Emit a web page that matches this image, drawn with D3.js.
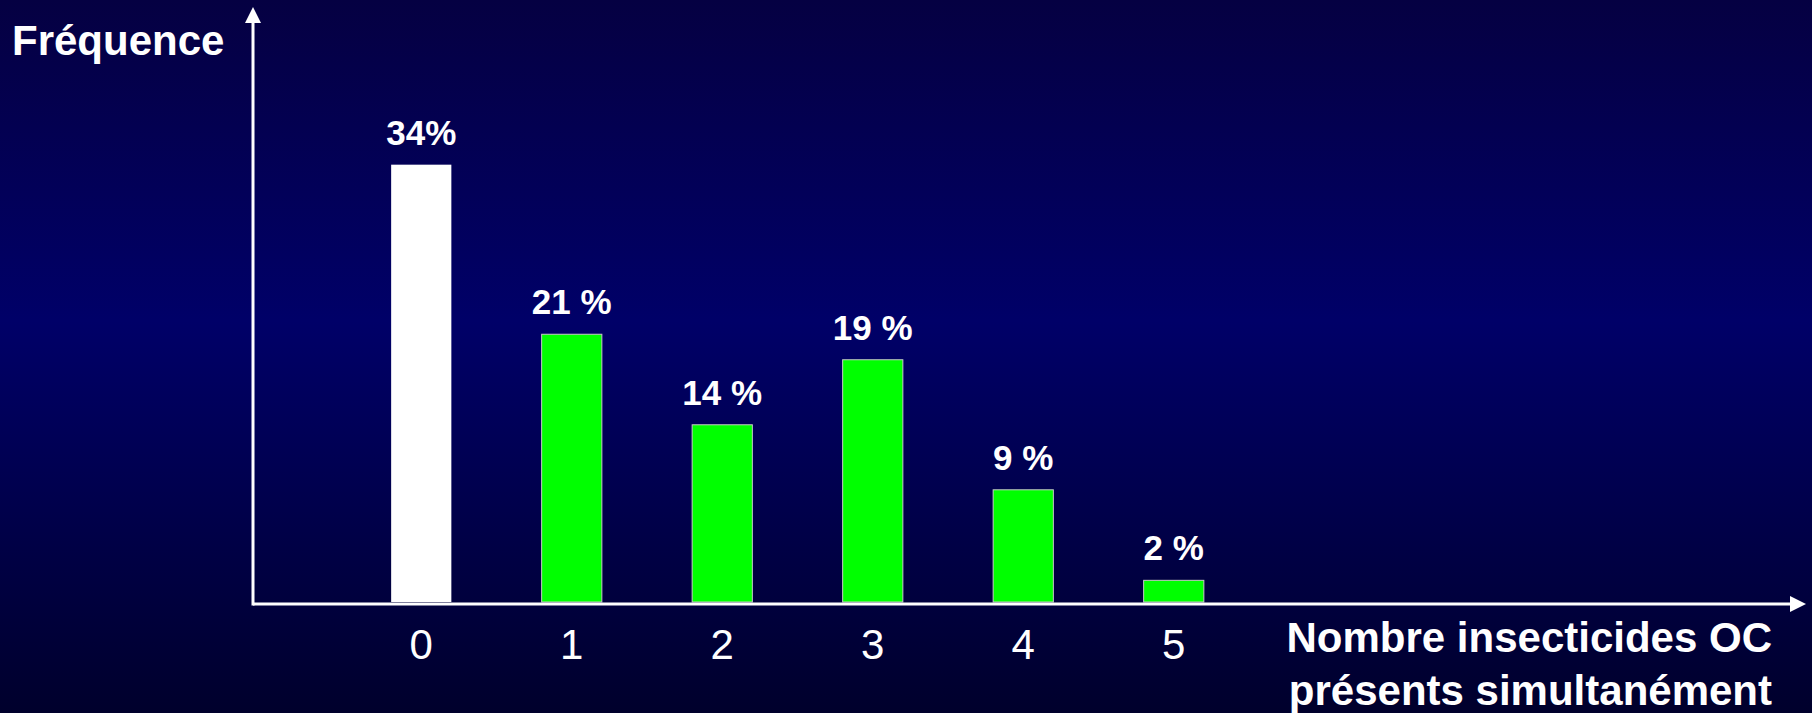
<!DOCTYPE html>
<html lang="fr">
<head>
    <meta charset="UTF-8">
    <title>Fréquence - nombre insecticides OC</title>
    <script src="https://d3js.org/d3.v7.min.js"></script>
    <style>
        body {
            margin: 0;
            overflow: hidden;
            font-family: "Liberation Sans", Arial, sans-serif;
        }
        .bar-label {
            fill: #fff;
            font-weight: bold;
            font-size: 35px;
            text-anchor: middle;
        }
        .title {
            fill: #fff;
            font-weight: bold;
            font-size: 42px;
        }
        .tick text {
            fill: #fff;
            font-size: 42px;
            font-family: "Liberation Sans", Arial, sans-serif;
        }
    </style>
</head>
<body>
    <svg id="chart" width="1812" height="713"></svg>
    <script>
        // data
        const categories = ["0", "1", "2", "3", "4", "5"];
        const values = [34.3, 21, 13.9, 19, 8.8, 1.7];
        const labels = ["34%", "21 %", "14 %", "19 %", "9 %", "2 %"];
        const barColors = ["#ffffff", "#00ff00", "#00ff00", "#00ff00", "#00ff00", "#00ff00"];

        const width = 1812;
        const height = 713;
        const axisX = 253;   // vertical axis position
        const axisY = 604;   // horizontal axis position
        const baseY = 602;   // bottom of the bars

        const svg = d3.select("#chart");

        // background gradient
        const defs = svg.append("defs");
        const grad = defs.append("linearGradient")
            .attr("id", "bg")
            .attr("x1", 0).attr("y1", 0)
            .attr("x2", 0).attr("y2", 1);
        grad.append("stop").attr("offset", "0%").attr("stop-color", "#050042");
        grad.append("stop").attr("offset", "45%").attr("stop-color", "#000068");
        grad.append("stop").attr("offset", "100%").attr("stop-color", "#00002c");

        svg.append("rect")
            .attr("width", width)
            .attr("height", height)
            .attr("fill", "url(#bg)");

        const x = d3.scaleBand()
            .domain(categories)
            .range([346, 1249])
            .paddingInner(0.6)
            .paddingOuter(0.3);

        const y = d3.scaleLinear()
            .domain([0, 40])
            .range([baseY, baseY - 510]);

        // bars
        svg.selectAll(".bar")
            .data(values)
            .enter()
            .append("rect")
            .attr("class", "bar")
            .attr("x", (d, i) => x(categories[i]))
            .attr("y", d => y(d))
            .attr("width", x.bandwidth())
            .attr("height", d => y(0) - y(d))
            .attr("fill", (d, i) => barColors[i])
            .attr("stroke", (d, i) => i === 0 ? "none" : "#c8c8c8")
            .attr("stroke-width", 1);

        // value labels
        svg.selectAll(".bar-label")
            .data(values)
            .enter()
            .append("text")
            .attr("class", "bar-label")
            .attr("x", (d, i) => x(categories[i]) + x.bandwidth() / 2)
            .attr("y", d => y(d) - 20)
            .text((d, i) => labels[i]);

        // category ticks
        const xAxis = svg.append("g")
            .attr("transform", `translate(0,${axisY})`)
            .call(d3.axisBottom(x).tickSize(0).tickPadding(25));
        xAxis.select(".domain").remove();

        // axes with arrow heads
        svg.append("path")
            .attr("d", `M${axisX},${axisY}H1792`)
            .attr("stroke", "#fff")
            .attr("stroke-width", 3);
        svg.append("path")
            .attr("d", `M1790,${axisY - 8}L1806,${axisY}L1790,${axisY + 8}Z`)
            .attr("fill", "#fff");

        svg.append("path")
            .attr("d", `M${axisX},${axisY + 1.5}V21`)
            .attr("stroke", "#fff")
            .attr("stroke-width", 3);
        svg.append("path")
            .attr("d", `M${axisX - 8},23L${axisX},7L${axisX + 8},23Z`)
            .attr("fill", "#fff");

        // axis titles
        svg.append("text")
            .attr("class", "title")
            .attr("x", 12)
            .attr("y", 55)
            .text("Fréquence");

        svg.append("text")
            .attr("class", "title")
            .attr("x", 1772)
            .attr("y", 652)
            .attr("text-anchor", "end")
            .text("Nombre insecticides OC");

        svg.append("text")
            .attr("class", "title")
            .attr("x", 1772)
            .attr("y", 705)
            .attr("text-anchor", "end")
            .text("présents simultanément");
    </script>
</body>
</html>
